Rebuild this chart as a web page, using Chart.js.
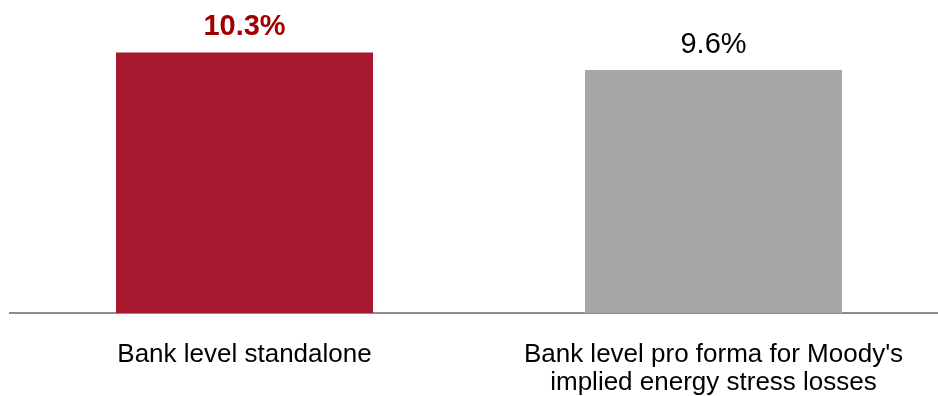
<!DOCTYPE html>
<html>
<head>
<meta charset="utf-8">
<script src="https://cdn.jsdelivr.net/npm/chart.js@4"></script>
<style>
    html, body { margin: 0; padding: 0; background: #fff; overflow: hidden; }
    #wrap { width: 948px; height: 396px; }
</style>
</head>
<body>
<div id="wrap"><canvas id="capitalChart"></canvas></div>
<script>
// categories and values (%)
var categories = [
    'Bank level standalone',
    ["Bank level pro forma for Moody's", 'implied energy stress losses']
];
var ratios = [10.3, 9.6];
var barColors = ['#A6192E', '#A6A6A6'];
var labelColors = ['#A00000', '#000000'];
var labelWeights = ['bold', 'normal'];

var FONT = "'Liberation Sans', Arial, sans-serif";

// value labels above each bar
var valueLabels = {
    id: 'valueLabels',
    afterDatasetsDraw(chart) {
        var ctx = chart.ctx;
        var meta = chart.getDatasetMeta(0);
        ctx.save();
        ctx.textAlign = 'center';
        ctx.textBaseline = 'alphabetic';
        meta.data.forEach(function (bar, i) {
            ctx.font = labelWeights[i] + ' 29px ' + FONT;
            ctx.fillStyle = labelColors[i];
            ctx.fillText(ratios[i].toFixed(1) + '%', bar.x, bar.y - 17);
        });
        ctx.restore();
    }
};

var ctx = document.getElementById('capitalChart').getContext('2d');
var capitalChart = new Chart(ctx, {
    type: 'bar',
    data: {
        labels: categories,
        datasets: [{
            data: ratios,
            backgroundColor: barColors,
            borderWidth: 0,
            barPercentage: 1,
            categoryPercentage: 0.548
        }]
    },
    options: {
        responsive: true,
        maintainAspectRatio: false,
        animation: false,
        layout: { padding: { left: 10, right: 0, top: 0, bottom: 0 } },
        plugins: {
            legend: { display: false },
            tooltip: { enabled: false }
        },
        scales: {
            x: {
                grid: { display: false, drawTicks: false },
                border: { display: true, color: '#8c8c8c', width: 2 },
                ticks: {
                    color: '#000',
                    padding: 28,
                    maxRotation: 0,
                    autoSkip: false,
                    font: { family: FONT, size: 26, lineHeight: 28 / 26 }
                },
                afterFit: function (scale) { scale.height = 83; }
            },
            y: {
                display: false,
                min: 0,
                max: 12.37
            }
        }
    },
    plugins: [valueLabels]
});
</script>
</body>
</html>
